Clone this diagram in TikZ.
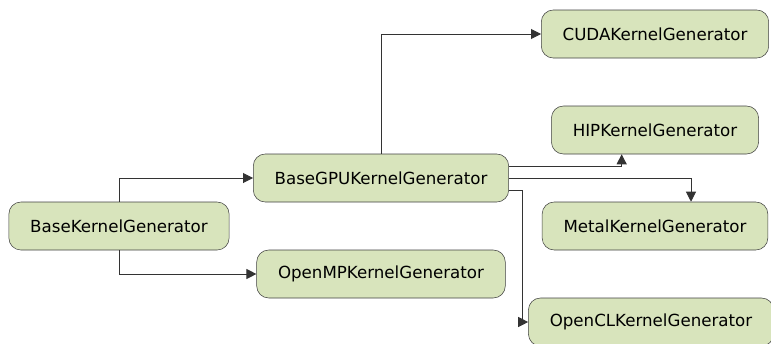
\documentclass[tikz,border=0pt]{standalone}
\usepackage{fontspec}
\setmainfont{DejaVu Sans}
\usepackage{tikz}
\usetikzlibrary{arrows.meta,positioning}
\definecolor{genfill}{RGB}{216,228,188}
\definecolor{genline}{RGB}{64,64,64}
\definecolor{linkgrey}{RGB}{51,51,51}

\begin{document}
\begin{tikzpicture}[x=0.75pt, y=-0.75pt,
    gen/.style={rectangle, rounded corners=9pt, draw=genline, fill=genfill,
                minimum height=36pt, inner xsep=16pt,
                font=\fontsize{12.5}{15}\selectfont},
    link/.style={draw=linkgrey, line width=0.7pt,
                 -{Triangle[length=7.5pt, width=7.5pt]}}
]
    \useasboundingbox (0,0) rectangle (771,343);

    % generator classes
    \node[gen] (base)   at (119,226) {BaseKernelGenerator};
    \node[gen] (gpu)    at (381,178) {BaseGPUKernelGenerator};
    \node[gen] (openmp) at (381,274) {OpenMPKernelGenerator};
    \node[gen] (cuda)   at (655,34)  {CUDAKernelGenerator};
    \node[gen] (hip)    at (655,130) {HIPKernelGenerator};
    \node[gen] (metal)  at (655,226) {MetalKernelGenerator};
    \node[gen] (opencl) at (651,322) {OpenCLKernelGenerator};

    % base class to subclasses
    \draw[link] (base.north) |- (gpu.west);
    \draw[link] (base.south) |- (openmp.west);

    % GPU backends
    \draw[link] (gpu.north) |- (cuda.west);
    \draw[link] ([yshift=9pt]gpu.east) -| ([xshift=-25pt]hip.south);
    \draw[link] (gpu.east) -| ([xshift=27pt]metal.north);
    \draw[link] ([yshift=-9pt]gpu.east) -- ++(13,0) |- (opencl.west);
\end{tikzpicture}
\end{document}
